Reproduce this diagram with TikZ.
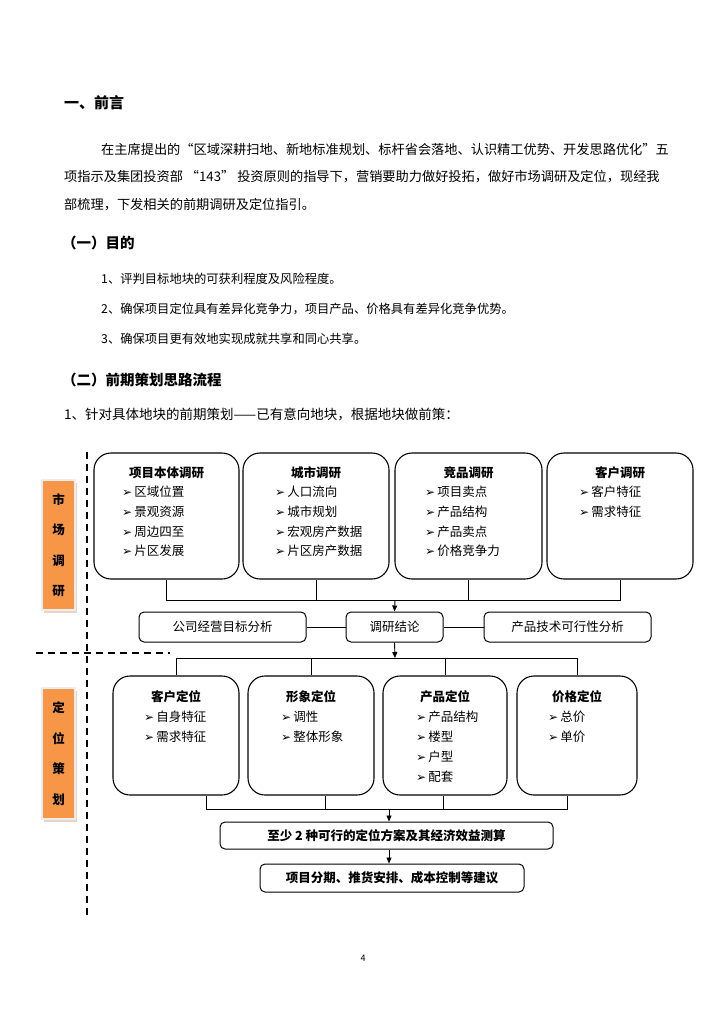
\documentclass[tikz,border=0pt]{standalone}
\usepackage{fontspec}
\setmainfont{Noto Sans CJK SC}
\newfontfamily\dingfont{DejaVu Sans}
\usetikzlibrary{arrows.meta, positioning, calc, shadows}

\definecolor{bandorange}{RGB}{247,150,70}
\definecolor{bandshadow}{RGB}{214,172,140}
\newcommand{\itm}{{\dingfont\fontsize{12}{12}\selectfont ➢}\,}

\begin{document}
\begin{tikzpicture}[x=1pt, y=-1pt,
    bigbox/.style={draw, line width=1.1pt, rounded corners=17pt},
    midbox/.style={draw, line width=1pt, rounded corners=5pt, minimum height=30pt, font=\fontsize{12.5}{15}\selectfont},
    ttl/.style={inner sep=0, font=\bfseries\fontsize{12.5}{15}\selectfont},
    lst/.style={anchor=west, inner sep=0, font=\fontsize{12.5}{15}\selectfont},
    band/.style={fill=bandorange, draw=black!7, line width=2.5pt, minimum width=33pt, align=center,
        font=\bfseries\fontsize{12.5}{30.5}\selectfont,
        drop shadow={shadow xshift=2pt, shadow yshift=-3pt, fill=bandshadow}},
    link/.style={line width=0.9pt},
    arr/.style={link, -{Triangle[length=6pt,width=5pt]}},
    dashline/.style={line width=2.2pt, dash pattern=on 7pt off 5pt},
    body/.style={anchor=west, inner sep=0, font=\fontsize{13.2}{15}\selectfont},
    aim/.style={body, font=\fontsize{12.3}{15}\selectfont},
    head/.style={anchor=west, inner sep=0, font=\bfseries\fontsize{14.5}{16}\selectfont}
]
    \useasboundingbox[fill=white] (0,0) rectangle (724,1024);

    % text of the page
    \node[head, font=\bfseries\fontsize{15}{18}\selectfont] (h1) at (64,103) {一、前言};
    \node[body] (p1) at (101,149) {在主席提出的“区域深耕扫地、新地标准规划、标杆省会落地、认识精工优势、开发思路优化”五};
    \node[body] (p2) at (64,177) {项指示及集团投资部 “143” 投资原则的指导下，营销要助力做好投拓，做好市场调研及定位，现经我};
    \node[body] (p3) at (64,205) {部梳理，下发相关的前期调研及定位指引。};
    \node[head] (h2) at (62,243) {（一）目的};
    \node[aim] (g1) at (101,279) {1、评判目标地块的可获利程度及风险程度。};
    \node[aim] (g2) at (101,309) {2、确保项目定位具有差异化竞争力，项目产品、价格具有差异化竞争优势。};
    \node[aim] (g3) at (101,339) {3、确保项目更有效地实现成就共享和同心共享。};
    \node[head] (h3) at (62,380) {（二）前期策划思路流程};
    \node[body, font=\fontsize{13.5}{15}\selectfont] (p4) at (64,414) {1、针对具体地块的前期策划——已有意向地块，根据地块做前策：};

    % side bands and dashed guides
    \node[band, minimum height=130pt] (mk) at (58.5,545) {市\\场\\调\\研};
    \node[band, minimum height=131pt] (dw) at (58.5,753.5) {定\\位\\策\\划};
    \draw[dashline] (87,452) -- (87,918);
    \draw[dashline] (36,653) -- (170,653);

    % research boxes
    \node[bigbox, minimum width=145pt, minimum height=126pt] (t1) at (166.5,516) {};
    \node[bigbox, minimum width=146pt, minimum height=126pt] (t2) at (316,516) {};
    \node[bigbox, minimum width=147pt, minimum height=126pt] (t3) at (468.5,516) {};
    \node[bigbox, minimum width=146pt, minimum height=126pt] (t4) at (620,516) {};
    \node[ttl] at ($(t1.north)+(0,20)$) {项目本体调研};
    \node[ttl] at ($(t2.north)+(0,20)$) {城市调研};
    \node[ttl] at ($(t3.north)+(0,20)$) {竞品调研};
    \node[ttl] at ($(t4.north)+(0,20)$) {客户调研};
    \foreach \t [count=\i] in {区域位置,景观资源,周边四至,片区发展}
        \node[lst] at (122,{492+19.7*(\i-1)}) {\itm\t};
    \foreach \t [count=\i] in {人口流向,城市规划,宏观房产数据,片区房产数据}
        \node[lst] at (275,{492+19.7*(\i-1)}) {\itm\t};
    \foreach \t [count=\i] in {项目卖点,产品结构,产品卖点,价格竞争力}
        \node[lst] at (425,{492+19.7*(\i-1)}) {\itm\t};
    \foreach \t [count=\i] in {客户特征,需求特征}
        \node[lst] at (579,{492+19.7*(\i-1)}) {\itm\t};

    % conclusion row
    \node[midbox, minimum width=97pt] (r2) at (394.5,627) {调研结论};
    \node[midbox, minimum width=167pt, left=39pt of r2] (r1) {公司经营目标分析};
    \node[midbox, minimum width=167pt, right=40pt of r2] (r3) {产品技术可行性分析};
    \draw[link] (r1) -- (r2);
    \draw[link] (r2) -- (r3);

    \coordinate (jn1) at (395,600);
    \draw[link] (t1.south) -- (t1.south |- jn1) -- (t4.south |- jn1) -- (t4.south);
    \draw[link] (t2.south) -- (t2.south |- jn1);
    \draw[link] (t3.south) -- (t3.south |- jn1);
    \draw[arr] (jn1) -- (r2.north);

    % positioning boxes
    \node[bigbox, minimum width=126pt, minimum height=119pt] (b1) at (176,735.5) {};
    \node[bigbox, minimum width=126pt, minimum height=119pt] (b2) at (311,735.5) {};
    \node[bigbox, minimum width=124pt, minimum height=119pt] (b3) at (445,735.5) {};
    \node[bigbox, minimum width=120pt, minimum height=119pt] (b4) at (577,735.5) {};
    \node[ttl] at ($(b1.north)+(0,21)$) {客户定位};
    \node[ttl] at ($(b2.north)+(0,21)$) {形象定位};
    \node[ttl] at ($(b3.north)+(0,21)$) {产品定位};
    \node[ttl] at ($(b4.north)+(0,21)$) {价格定位};
    \foreach \t [count=\i] in {自身特征,需求特征}
        \node[lst] at (144,{717+20*(\i-1)}) {\itm\t};
    \foreach \t [count=\i] in {调性,整体形象}
        \node[lst] at (281,{717+20*(\i-1)}) {\itm\t};
    \foreach \t [count=\i] in {产品结构,楼型,户型,配套}
        \node[lst] at (416,{717+20*(\i-1)}) {\itm\t};
    \foreach \t [count=\i] in {总价,单价}
        \node[lst] at (548,{717+20*(\i-1)}) {\itm\t};

    \coordinate (jn2) at (395,658);
    \draw[arr] (r2.south) -- (jn2);
    \draw[link] (b1.north |- jn2) -- (b4.north |- jn2);
    \foreach \b in {b1,b2,b3,b4}
        \draw[link] (\b.north |- jn2) -- (\b.north);

    % schemes and advice
    \node[midbox, minimum width=333pt, minimum height=27pt, font=\bfseries\fontsize{12.5}{15}\selectfont] (s1) at (386.5,835.5) {至少 2 种可行的定位方案及其经济效益测算};
    \node[midbox, minimum width=264pt, minimum height=28pt, font=\bfseries\fontsize{12.5}{15}\selectfont] (s2) at (392,878) {项目分期、推货安排、成本控制等建议};

    \coordinate (jn3) at (389,809);
    \coordinate (ft1) at ($(b1.south)+(30,0)$);
    \coordinate (ft2) at ($(b2.south)+(14,0)$);
    \coordinate (ft3) at ($(b3.south)+(-2,0)$);
    \coordinate (ft4) at ($(b4.south)+(-10,0)$);
    \draw[link] (ft1) -- (ft1 |- jn3) -- (ft4 |- jn3) -- (ft4);
    \draw[link] (ft2) -- (ft2 |- jn3);
    \draw[link] (ft3) -- (ft3 |- jn3);
    \draw[arr] (jn3) -- (jn3 |- s1.north);
    \draw[arr] (s1.south -| jn3) -- (s2.north -| jn3);

    \node[inner sep=0, font=\fontsize{9}{10}\selectfont] (pg) at (363,958) {4};
\end{tikzpicture}
\end{document}
